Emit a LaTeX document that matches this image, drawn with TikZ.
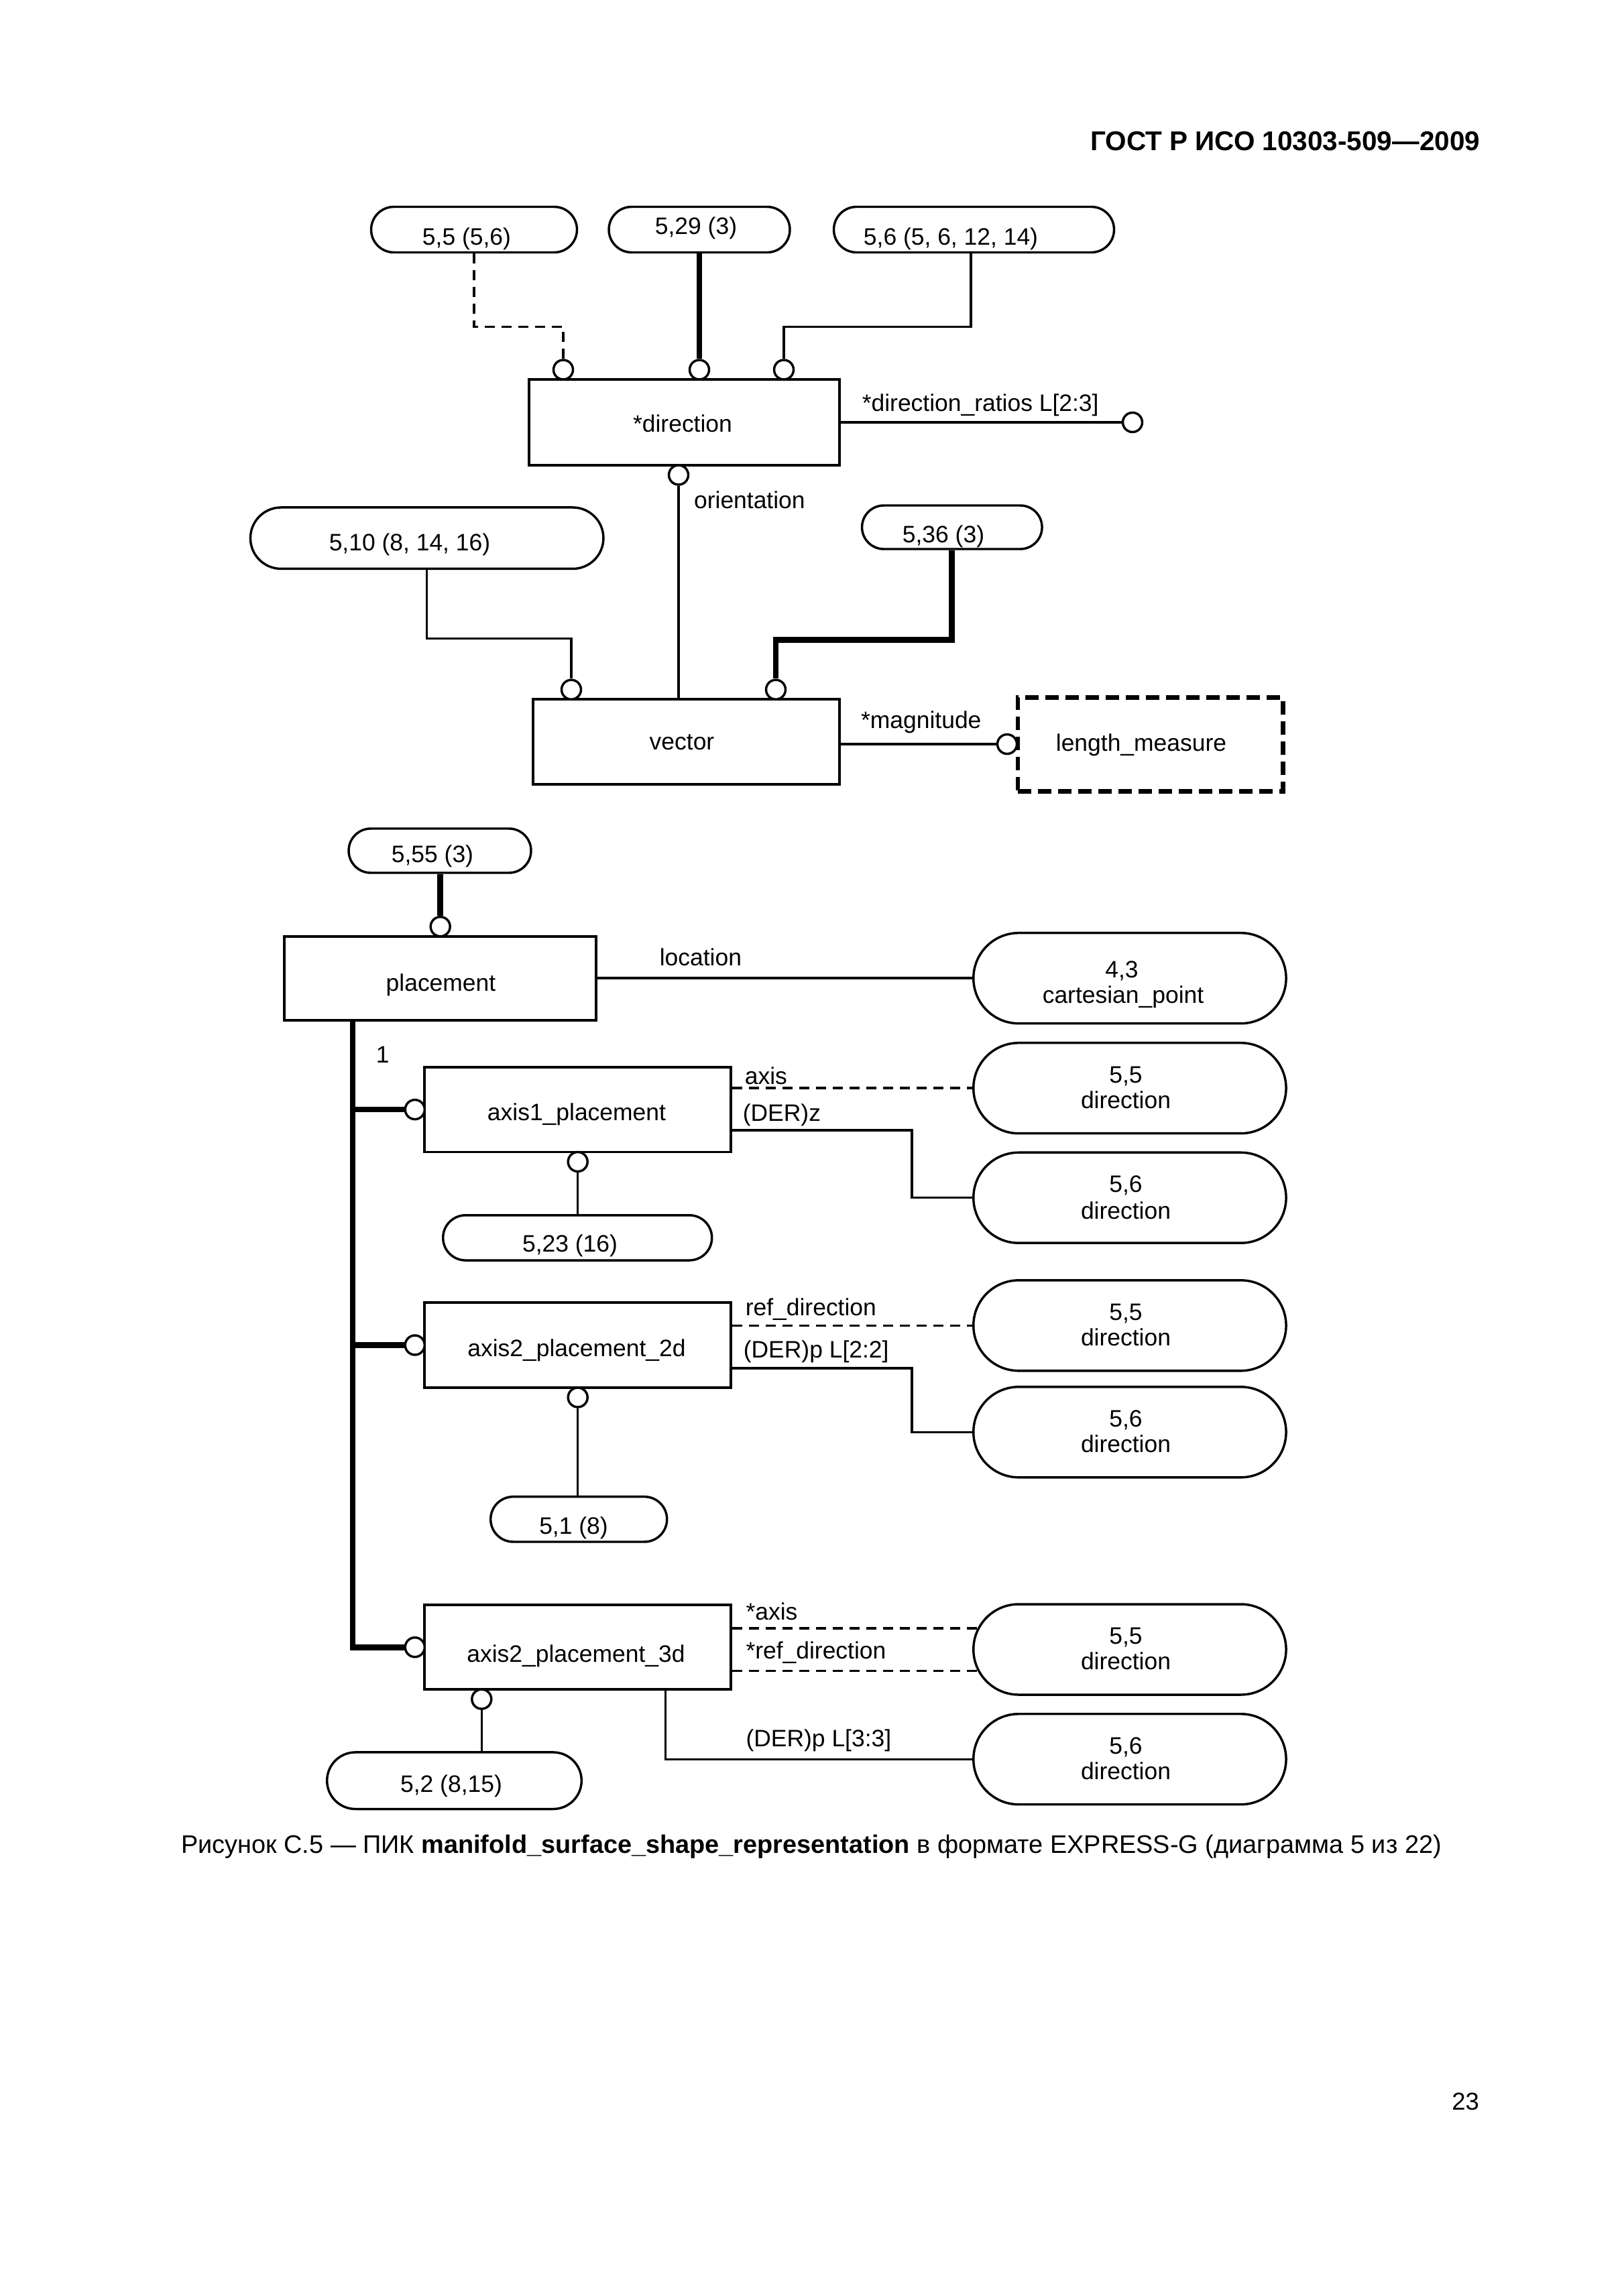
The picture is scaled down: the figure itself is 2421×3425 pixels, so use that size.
\documentclass[tikz,border=0pt]{standalone}
\usepackage{fontspec}
\setmainfont{Liberation Sans}
\usetikzlibrary{shapes.misc,calc}
\newcommand\lblfont{\fontsize{8.75}{10}\selectfont}
\newcommand\capfont{\fontsize{9.35}{11}\selectfont}
\newcommand\unitpx{0.086741mm}
\begin{document}
\begin{tikzpicture}[x=0.086741mm, y=-0.086741mm,
  thinline/.style={line width=0.3mm},
  thickline/.style={line width=0.75mm},
  dashline/.style={line width=0.3mm, dash pattern=on 1.3mm off 0.87mm},
  ent/.style={draw, line width=0.33mm, rectangle, inner sep=0pt, fill=white},
  refbox/.style={draw, line width=0.3mm, rounded rectangle, inner sep=0pt, fill=white},
  typ/.style={draw, line width=0.6mm, rectangle, inner sep=0pt, dash pattern=on 1.73mm off 0.87mm},
  ring/.style={draw, line width=0.3mm, circle, inner sep=0pt, minimum size=29*\unitpx, fill=white},
  lbl/.style={inner sep=0pt, font=\lblfont},
]
\fill[white] (0,0) rectangle (2421,3425);
\useasboundingbox (0,0) rectangle (2421,3425);

% header
\node[anchor=base east, inner sep=0pt, font=\fontsize{10}{12}\selectfont\bfseries] (hdr) at (2208,224) {ГОСТ Р ИСО 10303-509—2009};

% ---------- top part ----------
\node[refbox, minimum width=307*\unitpx, minimum height=68*\unitpx] (r55) at (707,342.5) {};
\node[lbl, anchor=base] (r55t) at (696,365) {5,5 (5,6)};
\node[refbox, minimum width=270*\unitpx, minimum height=68*\unitpx] (r529) at (1043,342.5) {};
\node[lbl, anchor=base] (r529t) at (1038,349) {5,29 (3)};
\node[refbox, minimum width=418*\unitpx, minimum height=68*\unitpx] (r56) at (1452.5,342.5) {};
\node[lbl, anchor=base] (r56t) at (1418,365) {5,6 (5, 6, 12, 14)};

\node[ent, minimum width=463*\unitpx, minimum height=128*\unitpx] (dir) at (1020.3,630) {};
\node[lbl, anchor=base] (dirt) at (1018,644) {*direction};

\node[ring] (c1) at (840,551.5) {};
\node[ring] (c2) at (1043,551.5) {};
\node[ring] (c3) at (1169,551.5) {};
\draw[dashline] (r55.south) -- ++(0,109.3) -| (c1.north);
\draw[thickline] (c2.north |- r529.south) -- (c2.north);
\draw[thinline] ($(r56.south)+(-4.5,0)$) -- ++(0,109.3) -| (c3.north);

\node[ring] (cdr) at (1689,630) {};
\draw[thinline] (dir.east) -- (cdr.west);
\node[lbl, anchor=base west] (drl) at (1285,613) {*direction\_ratios L[2:3]};

\node[ring] (c4) at (1012,708.5) {};
\node[ent, minimum width=457*\unitpx, minimum height=127*\unitpx] (vec) at (1023.3,1106.7) {};
\node[lbl, anchor=base] (vect) at (1017,1118) {vector};
\draw[thinline] (c4.south) -- (c4.south |- vec.north);
\node[lbl, anchor=base west] (orl) at (1034.3,758.3) {orientation};

\node[refbox, minimum width=526.5*\unitpx, minimum height=91.5*\unitpx] (r510) at (636.7,802.7) {};
\node[lbl, anchor=base] (r510t) at (611,821) {5,10 (8, 14, 16)};
\node[refbox, minimum width=268.5*\unitpx, minimum height=65*\unitpx] (r536) at (1419.8,786.5) {};
\node[lbl, anchor=base] (r536t) at (1407,809) {5,36 (3)};

\node[ring] (c5) at (852,1028.7) {};
\node[ring] (c6) at (1157,1028.7) {};
\draw[thinline] (r510.south) -- ++(0,102.5) -| (c5.north);
\draw[thickline] (r536.south) -- ++(0,134) -| (c6.north);

\node[ring] (c7) at (1502,1110) {};
\draw[thinline] (vec.east |- c7.west) -- (c7.west);
\node[lbl, anchor=base west] (magl) at (1283.3,1086) {*magnitude};
\node[typ, minimum width=395.6*\unitpx, minimum height=139.3*\unitpx] (lm) at (1715.8,1110.4) {};
\node[lbl, anchor=base] (lmt) at (1702,1120) {length\_measure};

% ---------- lower part ----------
\node[refbox, minimum width=272*\unitpx, minimum height=66*\unitpx] (r555) at (656,1269) {};
\node[lbl, anchor=base] (r555t) at (645,1286.6) {5,55 (3)};
\node[ent, minimum width=465.3*\unitpx, minimum height=125*\unitpx] (plc) at (656.7,1459.2) {};
\node[lbl, anchor=base] (plct) at (657.5,1478.3) {placement};
\node[ring] (c8) at (656.7,1382.2) {};
\draw[thickline] (c8.north |- r555.south) -- (c8.north);

\node[refbox, minimum width=466.3*\unitpx, minimum height=135*\unitpx] (cp) at (1684.9,1459.2) {};
\node[lbl, anchor=base] (cpn) at (1673,1458.3) {4,3};
\node[lbl, anchor=base] (cpt) at (1675,1496.7) {cartesian\_point};
\draw[thinline] (plc.east) -- (cp.west);
\node[lbl, anchor=base west] (locl) at (983,1440.6) {location};

% axis1_placement
\node[ent, minimum width=456.7*\unitpx, minimum height=126.8*\unitpx] (a1) at (861.7,1655.1) {};
\node[lbl, anchor=base] (a1t) at (860,1671.7) {axis1\_placement};
\node[ring] (c9) at (618.8,1655.1) {};
\node[ring] (c10) at (861.7,1733) {};
\node[refbox, minimum width=466.3*\unitpx, minimum height=135*\unitpx] (d55a) at (1684.9,1623.2) {};
\node[lbl, anchor=base] (d55an) at (1679,1615) {5,5};
\node[lbl, anchor=base] (d55at) at (1679,1653.3) {direction};
\node[refbox, minimum width=466.3*\unitpx, minimum height=135*\unitpx] (d56a) at (1684.9,1786.7) {};
\node[lbl, anchor=base] (d56an) at (1679,1778.3) {5,6};
\node[lbl, anchor=base] (d56at) at (1679,1818.3) {direction};
\draw[dashline] (a1.east |- d55a.west) -- (d55a.west);
\draw[thinline] ($(a1.east)+(0,31)$) -- ++(268,0) |- (d56a.west);
\node[lbl, anchor=base west] (a1l1) at (1110,1617) {axis};
\node[lbl, anchor=base west] (a1l2) at (1107,1672) {(DER)z};
\node[refbox, minimum width=401*\unitpx, minimum height=67.3*\unitpx] (r523) at (861.2,1846.4) {};
\node[lbl, anchor=base] (r523t) at (850,1867.7) {5,23 (16)};
\draw[thinline] (c10.south) -- (c10.south |- r523.north);

% axis2_placement_2d
\node[ent, minimum width=456.7*\unitpx, minimum height=127*\unitpx] (a2) at (861.7,2006.5) {};
\node[lbl, anchor=base] (a2t) at (860,2023) {axis2\_placement\_2d};
\node[ring] (c11) at (618.8,2006.5) {};
\node[ring] (c12) at (861.7,2084.5) {};
\node[refbox, minimum width=466.3*\unitpx, minimum height=135*\unitpx] (d55b) at (1684.9,1977.3) {};
\node[lbl, anchor=base] (d55bn) at (1679,1969.3) {5,5};
\node[lbl, anchor=base] (d55bt) at (1679,2007.3) {direction};
\node[refbox, minimum width=466.3*\unitpx, minimum height=135*\unitpx] (d56b) at (1684.9,2136.3) {};
\node[lbl, anchor=base] (d56bn) at (1679,2128.3) {5,6};
\node[lbl, anchor=base] (d56bt) at (1679,2166.3) {direction};
\draw[dashline] (a2.east |- d55b.west) -- (d55b.west);
\draw[thinline] ($(a2.east)+(0,34.5)$) -- ++(268,0) |- (d56b.west);
\node[lbl, anchor=base west] (a2l1) at (1111,1962.5) {ref\_direction};
\node[lbl, anchor=base west] (a2l2) at (1108,2025.7) {(DER)p L[2:2]};
\node[refbox, minimum width=263*\unitpx, minimum height=67.3*\unitpx] (r51) at (863.2,2266.3) {};
\node[lbl, anchor=base] (r51t) at (855.5,2288.3) {5,1 (8)};
\draw[thinline] (c12.south) -- (c12.south |- r51.north);

% axis2_placement_3d
\node[ent, minimum width=456.7*\unitpx, minimum height=125.7*\unitpx] (a3) at (861.7,2457.2) {};
\node[lbl, anchor=base] (a3t) at (859,2479) {axis2\_placement\_3d};
\node[ring] (c13) at (618.8,2457.2) {};
\node[ring] (c14) at (718.3,2534.6) {};
\node[refbox, minimum width=466.3*\unitpx, minimum height=135*\unitpx] (d55c) at (1684.9,2460.5) {};
\node[lbl, anchor=base] (d55cn) at (1679,2452.5) {5,5};
\node[lbl, anchor=base] (d55ct) at (1679,2490.5) {direction};
\node[refbox, minimum width=466.3*\unitpx, minimum height=135*\unitpx] (d56c) at (1684.9,2624.2) {};
\node[lbl, anchor=base] (d56cn) at (1679,2616.2) {5,6};
\node[lbl, anchor=base] (d56ct) at (1679,2654.2) {direction};
\coordinate (e1) at ($(d55c.west)+(7.6,-31.7)$);
\coordinate (e2) at ($(d55c.west)+(7.6,31.7)$);
\coordinate (e3) at ($(a3.south east)+(-99.3,0)$);
\draw[dashline] (a3.east |- e1) -- (e1);
\draw[dashline] (a3.east |- e2) -- (e2);
\draw[thinline] (e3) |- (d56c.west);
\node[lbl, anchor=base west] (a3l1) at (1111.7,2416.7) {*axis};
\node[lbl, anchor=base west] (a3l2) at (1111.7,2474) {*ref\_direction};
\node[lbl, anchor=base west] (a3l3) at (1111.7,2605) {(DER)p L[3:3]};
\node[refbox, minimum width=379.6*\unitpx, minimum height=84.6*\unitpx] (r52) at (677.5,2656.2) {};
\node[lbl, anchor=base] (r52t) at (673,2673) {5,2 (8,15)};
\draw[thinline] (c14.south) -- (c14.south |- r52.north);

% supertype trunk
\coordinate (tk) at (526,1521.7);
\draw[thickline] (plc.south -| tk) -- (tk |- c13.west) -- (c13.west);
\draw[thickline] (tk |- c9.west) -- (c9.west);
\draw[thickline] (tk |- c11.west) -- (c11.west);
\node[lbl, anchor=base west] (one) at (560,1585) {1};

% caption and page number
\node[anchor=base, inner sep=0pt, font=\capfont] (cap) at (1210,2764) {Рисунок С.5 — ПИК \textbf{manifold\_surface\_shape\_representation} в формате EXPRESS-G (диаграмма 5 из 22)};
\node[anchor=base east, inner sep=0pt, font=\fontsize{9}{11}\selectfont] (pg) at (2206.7,3147.7) {23};
\end{tikzpicture}
\end{document}
